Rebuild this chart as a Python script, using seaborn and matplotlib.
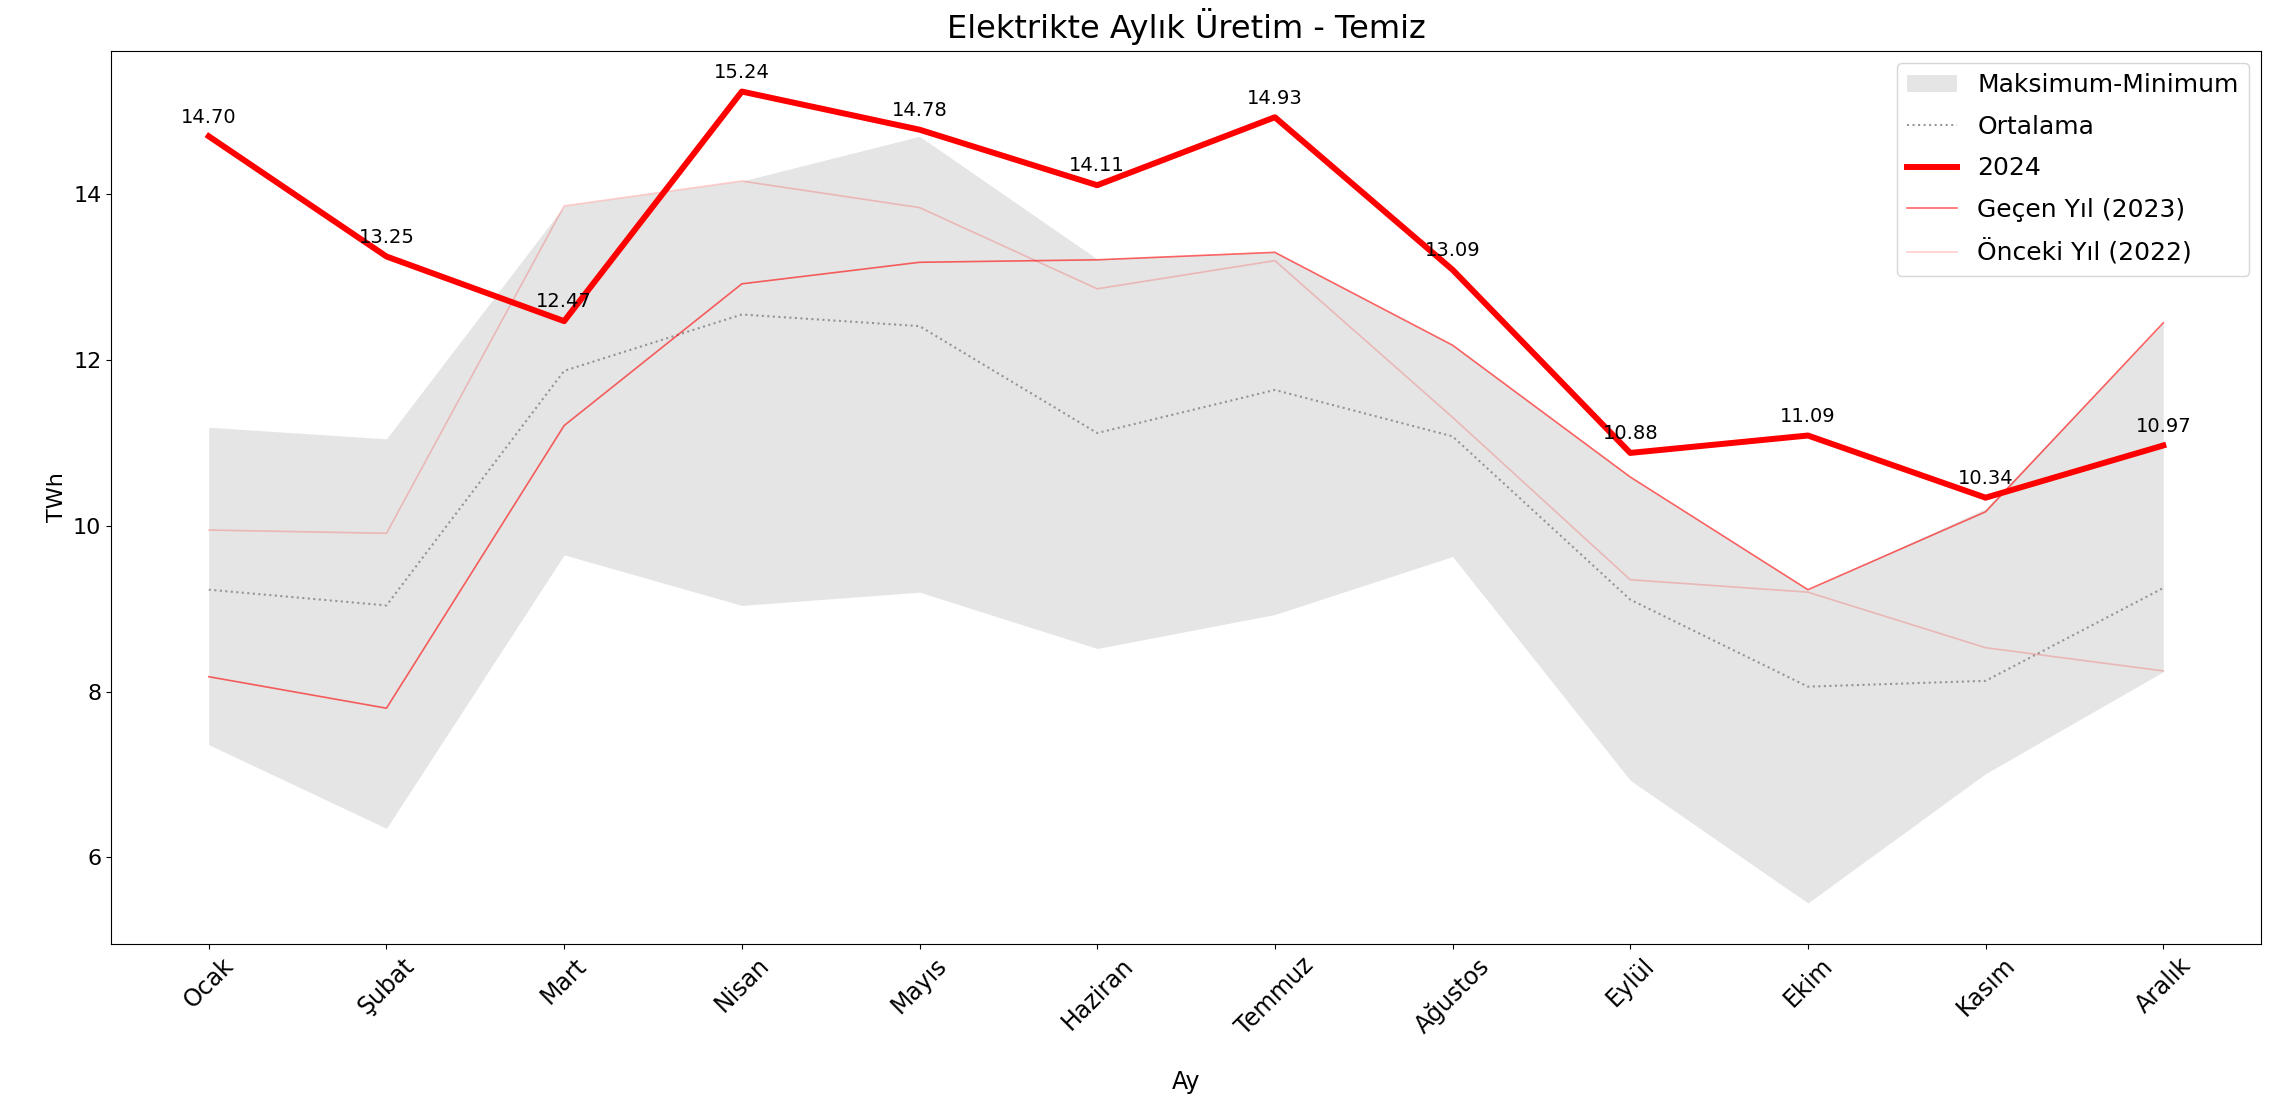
import pandas as pd
import seaborn as sns
import matplotlib.pyplot as plt

# month names and series (TWh)
months = ['Ocak', 'Şubat', 'Mart', 'Nisan', 'Mayıs', 'Haziran',
          'Temmuz', 'Ağustos', 'Eylül', 'Ekim', 'Kasım', 'Aralık']
y2024 = [14.70, 13.25, 12.47, 15.24, 14.78, 14.11, 14.93, 13.09, 10.88, 11.09, 10.34, 10.97]
y2023 = [8.18, 7.80, 11.21, 12.92, 13.18, 13.21, 13.30, 12.18, 10.59, 9.23, 10.17, 12.45]
y2022 = [9.95, 9.91, 13.86, 14.16, 13.84, 12.86, 13.20, 11.31, 9.35, 9.20, 8.53, 8.25]
ortalama = [9.23, 9.04, 11.87, 12.55, 12.41, 11.12, 11.64, 11.08, 9.11, 8.06, 8.13, 9.25]
maks = [11.19, 11.05, 13.86, 14.16, 14.70, 13.22, 13.30, 12.18, 10.59, 9.23, 10.21, 12.45]
mins = [7.36, 6.35, 9.65, 9.04, 9.20, 8.52, 8.93, 9.63, 6.93, 5.45, 7.01, 8.24]

df = pd.DataFrame({'Ay': months, '2024': y2024, '2023': y2023, '2022': y2022,
                   'Ortalama': ortalama, 'Maks': maks, 'Min': mins})

fig, ax = plt.subplots(figsize=(22.85, 11.01), dpi=100)
plt.subplots_adjust(left=0.0486, right=0.9895, top=0.9537, bottom=0.143)

ax.fill_between(range(len(months)), df['Min'], df['Maks'], color='gray', alpha=0.2,
                linewidth=0, label='Maksimum-Minimum')
sns.lineplot(data=df, x='Ay', y='Ortalama', ax=ax, color='gray', alpha=0.8, linestyle=':',
             linewidth=1.5, label='Ortalama', sort=False)
sns.lineplot(data=df, x='Ay', y='2024', ax=ax, color='red', linewidth=4.3,
             label='2024', sort=False)
sns.lineplot(data=df, x='Ay', y='2023', ax=ax, color='red', alpha=0.6, linewidth=1.2,
             label='Geçen Yıl (2023)', sort=False)
sns.lineplot(data=df, x='Ay', y='2022', ax=ax, color='red', alpha=0.2, linewidth=1.2,
             label='Önceki Yıl (2022)', sort=False)

# y range like matplotlib's default 5% margins over everything drawn
lo = min(mins)
hi = max(max(y2024), max(maks))
pad = 0.05 * (hi - lo)
ax.set_ylim(lo - pad, hi + pad)

# value labels on 2024 line
for i, v in enumerate(y2024):
    ax.annotate(f'{v:.2f}', (i, v), textcoords='offset points', xytext=(0, 7),
                ha='center', va='bottom', fontsize=14)

ax.set_title('Elektrikte Aylık Üretim - Temiz', fontsize=23, pad=9)
ax.set_xlabel('Ay', fontsize=17, labelpad=22)
ax.set_ylabel('TWh', fontsize=16)
ax.tick_params(axis='y', labelsize=16)
ax.tick_params(axis='x', labelsize=17)
plt.xticks(rotation=45)
ax.legend(loc='upper right', fontsize=18, labelspacing=0.7)

plt.savefig('out.png')
